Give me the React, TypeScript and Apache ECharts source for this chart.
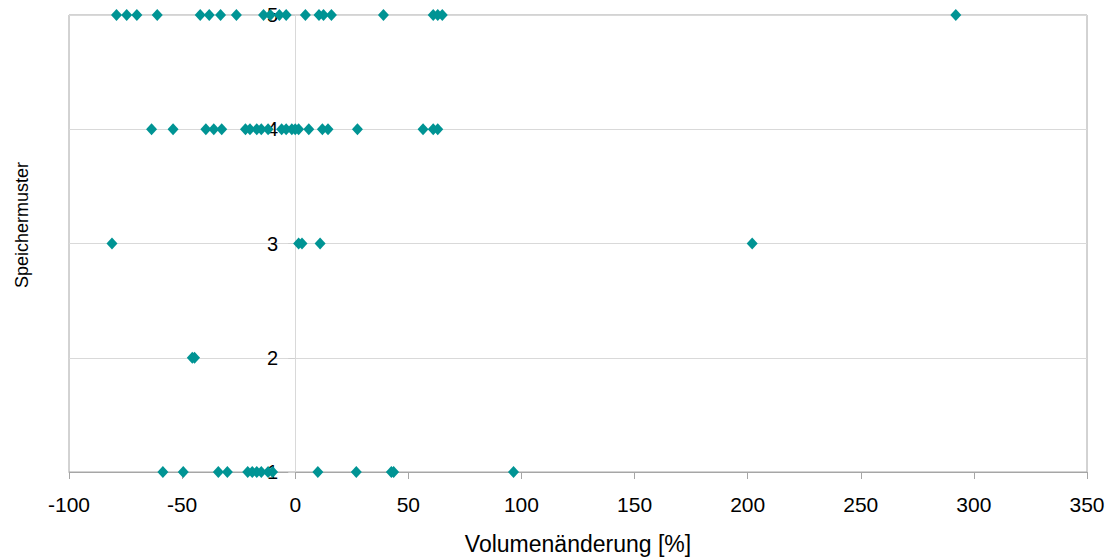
import React, { useEffect, useRef } from "react";
import * as echarts from "echarts";

const xTicks = { min: -100, max: 350, interval: 50 };
const yCategories = [1, 2, 3, 4, 5];

const muster5 = [-79, -74.5, -70, -61, -42, -38, -33, -26, -14, -11, -7, -4, 4.5, 10.5, 12.5, 16, 39, 61, 63, 65, 292];
const muster4 = [-63.5, -54, -39.5, -36, -32.5, -22, -20, -17, -15, -12, -6, -4, -1.5, 0, 1.5, 6, 12, 14.5, 27.5, 56.5, 61, 63];
const muster3 = [-81, 1.5, 3, 11, 202];
const muster2 = [-45.5, -44.5];
const muster1 = [-58.5, -49.5, -34, -30, -21, -19, -17, -15, -12, -10, 10, 27, 42.5, 43.5, 96.5];

const rows: [number, number[]][] = [
  [1, muster1],
  [2, muster2],
  [3, muster3],
  [4, muster4],
  [5, muster5],
];

const FONT = "Liberation Sans, Arial, sans-serif";
const GRID_LEFT = 69;
const GRID_RIGHT = 24;
const WIDTH = 1111;

export default function App() {
  const ref = useRef<HTMLDivElement>(null);
  useEffect(() => {
    document.body.style.margin = "0";
    const chart = echarts.init(ref.current!, null, { renderer: "svg" });
    const data: number[][] = [];
    rows.forEach(([y, vals]) => vals.forEach((v) => data.push([v, y])));
    const plotW = WIDTH - GRID_LEFT - GRID_RIGHT;
    const zeroOffset = ((0 - xTicks.min) / (xTicks.max - xTicks.min)) * plotW;
    chart.setOption({
      animation: false,
      textStyle: { fontFamily: FONT },
      grid: {
        left: GRID_LEFT,
        right: GRID_RIGHT,
        top: 15,
        bottom: 88,
        outerBoundsMode: "none",
        containLabel: false,
        show: true,
        borderColor: "#a6a6a6",
        borderWidth: 1,
        backgroundColor: "transparent",
      },
      xAxis: {
        type: "value",
        min: xTicks.min,
        max: xTicks.max,
        interval: xTicks.interval,
        name: "Volumenänderung [%]",
        nameLocation: "middle",
        nameGap: 60,
        nameTextStyle: { fontSize: 23, color: "#000", fontFamily: FONT },
        axisLine: { show: true, onZero: false, lineStyle: { color: "#a6a6a6", width: 1 } },
        axisTick: { show: true, length: 7, lineStyle: { color: "#a6a6a6" } },
        axisLabel: { fontSize: 21, color: "#000", margin: 22, fontFamily: FONT },
        splitLine: { show: false },
      },
      yAxis: {
        type: "value",
        position: "left",
        offset: -zeroOffset,
        min: yCategories[0],
        max: yCategories[yCategories.length - 1],
        interval: 1,
        axisLine: { show: true, onZero: false, lineStyle: { color: "#d9d9d9", width: 1 } },
        axisTick: { show: true, length: 7, lineStyle: { color: "#cfcfcf" } },
        axisLabel: { fontSize: 20, color: "#000", margin: 17, fontFamily: FONT },
        splitLine: { show: true, lineStyle: { color: "#d9d9d9", width: 1 } },
      },
      graphic: [
        {
          type: "text",
          x: 22,
          y: 225,
          rotation: Math.PI / 2,
          style: {
            text: "Speichermuster",
            fontSize: 18,
            fontFamily: FONT,
            fill: "#000",
            textAlign: "center",
            textVerticalAlign: "middle",
          },
        },
      ],
      series: [
        {
          type: "scatter",
          symbol: "diamond",
          symbolSize: [11, 12],
          itemStyle: { color: "#009494", opacity: 1 },
          data,
          z: 3,
        },
      ],
    });
    return () => chart.dispose();
  }, []);
  return <div ref={ref} style={{ width: 1111, height: 560 }} />;
}
